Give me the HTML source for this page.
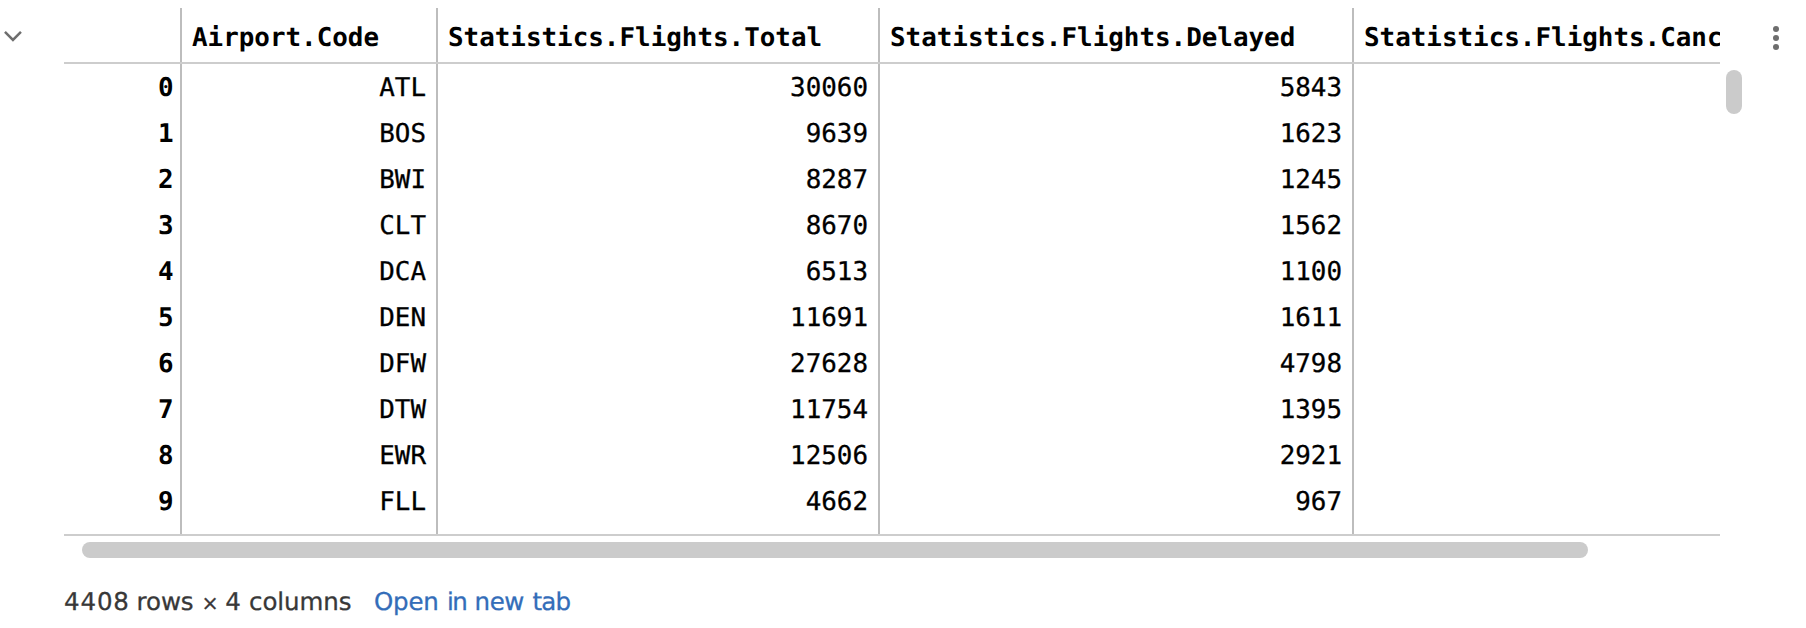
<!DOCTYPE html>
<html lang="en">
<head>
<meta charset="utf-8">
<title>DataFrame output</title>
<style>
html,body{margin:0;padding:0;background:#fff;overflow:hidden;}
body{text-rendering:geometricPrecision;width:1806px;height:628px;position:relative;overflow:hidden;font-family:"DejaVu Sans Mono","Liberation Mono",monospace;color:#000;}
.abs{position:absolute;}
.vl{position:absolute;top:8px;width:2px;height:527px;background:#bdbdbd;}
.hl{position:absolute;left:64px;width:1656px;height:2px;background:#cdcdcd;}
.th{position:absolute;top:8px;height:54px;line-height:60px;font-weight:bold;font-size:25.9px;white-space:nowrap;overflow:hidden;}
.row{position:absolute;left:64px;width:1656px;height:46px;line-height:46px;font-size:25.9px;}
.c{position:absolute;top:1px;height:46px;text-align:right;white-space:nowrap;}
.c0{left:0;width:109.6px;font-weight:bold;}
.c1,.c2,.c3{-webkit-text-stroke:0.3px #000;}
.c1{left:118px;width:244px;}
.c2{left:374px;width:430px;}
.c3{left:816px;width:462px;}
.foot{position:absolute;left:0;top:585px;width:700px;height:34px;line-height:34px;font-family:"DejaVu Sans","Liberation Sans",sans-serif;font-size:24.5px;color:#383838;white-space:nowrap;}
.foot span{position:absolute;top:0;-webkit-text-stroke-width:0.3px;}
.foot a{color:#336db9;text-decoration:none;}
</style>
</head>
<body>
<svg class="abs" style="left:0;top:24px" width="28" height="26" viewBox="0 0 28 26"><path d="M4.95 7.9 L12.95 16 L20.95 7.9" fill="none" stroke="#6e6e6e" stroke-width="2.5" stroke-linecap="butt" stroke-linejoin="miter"/></svg>

<div class="th" style="left:192px;width:244px;">Airport.Code</div>
<div class="th" style="left:448px;width:430px;">Statistics.Flights.Total</div>
<div class="th" style="left:890px;width:462px;">Statistics.Flights.Delayed</div>
<div class="th" style="left:1364px;width:356px;">Statistics.Flights.Cancelled</div>

<div class="vl" style="left:180px"></div>
<div class="vl" style="left:436px"></div>
<div class="vl" style="left:878px"></div>
<div class="vl" style="left:1352px"></div>
<div class="hl" style="top:62px"></div>
<div class="hl" style="top:534px"></div>

<div class="row" style="top:64px"><div class="c c0">0</div><div class="c c1">ATL</div><div class="c c2">30060</div><div class="c c3">5843</div></div>
<div class="row" style="top:110px"><div class="c c0">1</div><div class="c c1">BOS</div><div class="c c2">9639</div><div class="c c3">1623</div></div>
<div class="row" style="top:156px"><div class="c c0">2</div><div class="c c1">BWI</div><div class="c c2">8287</div><div class="c c3">1245</div></div>
<div class="row" style="top:202px"><div class="c c0">3</div><div class="c c1">CLT</div><div class="c c2">8670</div><div class="c c3">1562</div></div>
<div class="row" style="top:248px"><div class="c c0">4</div><div class="c c1">DCA</div><div class="c c2">6513</div><div class="c c3">1100</div></div>
<div class="row" style="top:294px"><div class="c c0">5</div><div class="c c1">DEN</div><div class="c c2">11691</div><div class="c c3">1611</div></div>
<div class="row" style="top:340px"><div class="c c0">6</div><div class="c c1">DFW</div><div class="c c2">27628</div><div class="c c3">4798</div></div>
<div class="row" style="top:386px"><div class="c c0">7</div><div class="c c1">DTW</div><div class="c c2">11754</div><div class="c c3">1395</div></div>
<div class="row" style="top:432px"><div class="c c0">8</div><div class="c c1">EWR</div><div class="c c2">12506</div><div class="c c3">2921</div></div>
<div class="row" style="top:478px"><div class="c c0">9</div><div class="c c1">FLL</div><div class="c c2">4662</div><div class="c c3">967</div></div>

<div class="abs" style="left:82px;top:542px;width:1506px;height:16px;border-radius:8px;background:#cbcbcb;"></div>
<div class="abs" style="left:1726px;top:70px;width:16px;height:44px;border-radius:8px;background:#cbcbcb;"></div>

<svg class="abs" style="left:1766px;top:22px" width="20" height="32" viewBox="0 0 20 32"><circle cx="10" cy="7" r="3" fill="#6e6e6e"/><circle cx="10" cy="16" r="3" fill="#6e6e6e"/><circle cx="10" cy="25" r="3" fill="#6e6e6e"/></svg>

<div class="foot"><span style="left:64px;letter-spacing:0.87px">4408 </span><span style="left:136.5px;letter-spacing:-0.07px">rows </span><span style="left:201.4px;font-size:20.5px;top:0.7px">× </span><span style="left:225.2px">4 </span><span style="left:249px;letter-spacing:-0.08px">columns</span><a><span style="left:374px;letter-spacing:-0.23px">Open </span><span style="left:447px;letter-spacing:-1.6px">in </span><span style="left:474.6px;letter-spacing:-0.45px">new </span><span style="left:532.4px;letter-spacing:-0.8px">tab</span></a></div>
</body>
</html>
